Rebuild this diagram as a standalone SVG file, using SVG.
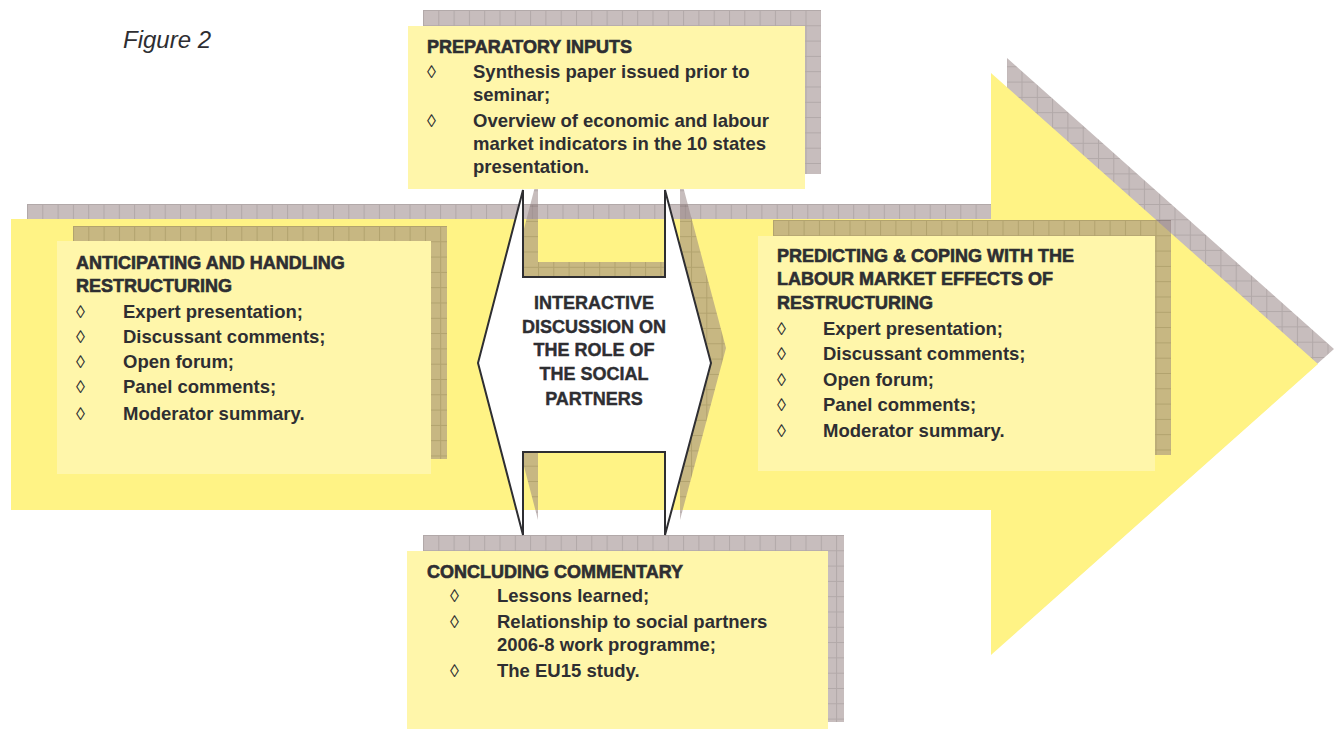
<svg xmlns="http://www.w3.org/2000/svg" width="1338" height="729" viewBox="0 0 1338 729">
<defs>
<pattern id="grid" width="15.3" height="15.3" patternUnits="userSpaceOnUse">
<rect width="15.3" height="15.3" fill="#938080"/>
<path d="M0,0.5 H15.3 M0.5,0 V15.3" stroke="#6a5858" stroke-width="1" fill="none"/>
</pattern>
<style>
.shadow{fill:url(#grid);opacity:0.52}
.arrow{fill:#fff385}
.box{fill:#fff6aa}
.t{font-family:"Liberation Sans",Arial,sans-serif;font-weight:bold;font-size:18.5px;fill:#2e2e32}
.h{font-family:"Liberation Sans",Arial,sans-serif;font-weight:bold;font-size:18px;fill:#2e2e32;stroke:#2e2e32;stroke-width:0.6px}
.b{font-family:"Liberation Sans",Arial,sans-serif;font-size:18px;fill:#2e2e32}
.c{font-family:"Liberation Sans",Arial,sans-serif;font-weight:bold;font-size:18px;fill:#2e2e32;stroke:#2e2e32;stroke-width:0.4px;text-anchor:middle}
.fig{font-family:"Liberation Sans",Arial,sans-serif;font-style:italic;font-size:24px;fill:#2e2e32}
</style>
</defs>
<rect width="1338" height="729" fill="#ffffff"/>
<text class="fig" x="123" y="48">Figure 2</text>

<g id="connectors">
<g id="flow-arrow">
<path class="shadow" transform="translate(27,204)" d="M0,0 H980 V-146 L1307,145 L980,436 V291 H0 Z"/>
<path class="arrow" d="M11,219 H991 V73 L1318,364 L991,655 V510 H11 Z"/>
</g>
</g>

<g id="interactive-discussion">
<path class="shadow" transform="translate(538,175)" d="M0,0 V87 H142 V0 L188,173 L142,345 V262 H0 V345 L-45,173 Z"/>
<path d="M523,190 V277 H665 V190 L711,363 L665,535 V452 H523 V535 L478,363 Z" fill="#ffffff" stroke="#2e2e32" stroke-width="2" stroke-linejoin="miter"/>
<text class="c" x="594" y="309">INTERACTIVE</text>
<text class="c" x="594" y="333">DISCUSSION ON</text>
<text class="c" x="594" y="356">THE ROLE OF</text>
<text class="c" x="594" y="380">THE SOCIAL</text>
<text class="c" x="594" y="405">PARTNERS</text>
</g>

<g id="preparatory-inputs">
<rect class="shadow" transform="translate(423,10)" width="398" height="164"/>
<rect class="box" x="408" y="26" width="397" height="163"/>
<text class="h" x="427" y="53">PREPARATORY INPUTS</text>
<text class="b" x="427" y="78">◊</text>
<text class="t" x="473" y="78">Synthesis paper issued prior to</text>
<text class="t" x="473" y="101">seminar;</text>
<text class="b" x="427" y="127">◊</text>
<text class="t" x="473" y="127">Overview of economic and labour</text>
<text class="t" x="473" y="150">market indicators in the 10 states</text>
<text class="t" x="473" y="173">presentation.</text>
</g>

<g id="anticipating-restructuring">
<rect class="shadow" transform="translate(73,226)" width="374" height="233"/>
<rect class="box" x="57" y="241" width="374" height="233"/>
<text class="h" x="76" y="269">ANTICIPATING AND HANDLING</text>
<text class="h" x="76" y="292">RESTRUCTURING</text>
<text class="b" x="76" y="318">◊</text>
<text class="t" x="123" y="318">Expert presentation;</text>
<text class="b" x="76" y="343">◊</text>
<text class="t" x="123" y="343">Discussant comments;</text>
<text class="b" x="76" y="368">◊</text>
<text class="t" x="123" y="368">Open forum;</text>
<text class="b" x="76" y="393">◊</text>
<text class="t" x="123" y="393">Panel comments;</text>
<text class="b" x="76" y="420">◊</text>
<text class="t" x="123" y="420">Moderator summary.</text>
</g>

<g id="predicting-coping">
<rect class="shadow" transform="translate(773,220)" width="398" height="235"/>
<rect class="box" x="758" y="236" width="397" height="235"/>
<text class="h" x="777" y="262">PREDICTING &amp; COPING WITH THE</text>
<text class="h" x="777" y="285">LABOUR MARKET EFFECTS OF</text>
<text class="h" x="777" y="309">RESTRUCTURING</text>
<text class="b" x="777" y="335">◊</text>
<text class="t" x="823" y="335">Expert presentation;</text>
<text class="b" x="777" y="360">◊</text>
<text class="t" x="823" y="360">Discussant comments;</text>
<text class="b" x="777" y="386">◊</text>
<text class="t" x="823" y="386">Open forum;</text>
<text class="b" x="777" y="411">◊</text>
<text class="t" x="823" y="411">Panel comments;</text>
<text class="b" x="777" y="437">◊</text>
<text class="t" x="823" y="437">Moderator summary.</text>
</g>

<g id="concluding-commentary">
<rect class="shadow" transform="translate(423,535)" width="421" height="187"/>
<rect class="box" x="407" y="551" width="421" height="178"/>
<text class="h" x="427" y="578">CONCLUDING COMMENTARY</text>
<text class="b" x="450" y="602">◊</text>
<text class="t" x="497" y="602">Lessons learned;</text>
<text class="b" x="450" y="628">◊</text>
<text class="t" x="497" y="628">Relationship to social partners</text>
<text class="t" x="497" y="651">2006-8 work programme;</text>
<text class="b" x="450" y="677">◊</text>
<text class="t" x="497" y="677">The EU15 study.</text>
</g>
</svg>
